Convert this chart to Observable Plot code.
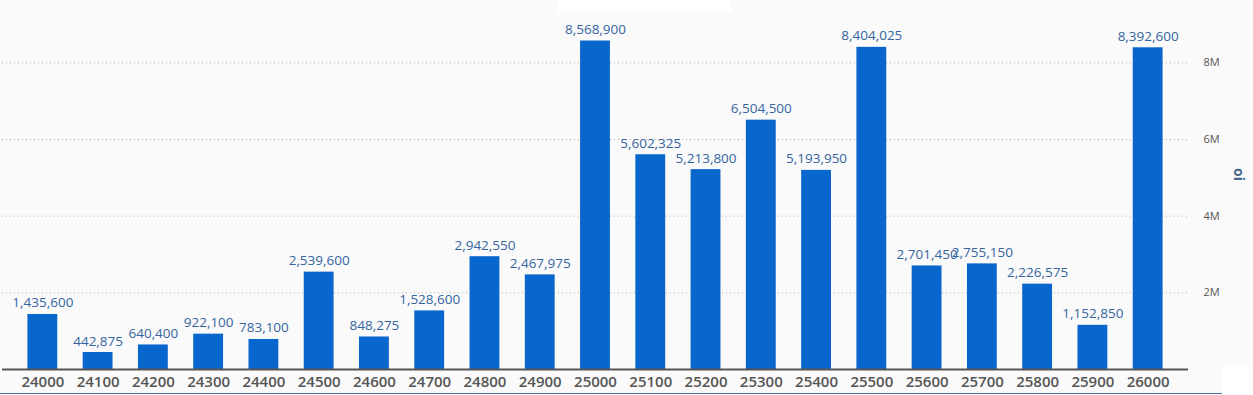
<!DOCTYPE html>
<html>
<head>
<meta charset="utf-8">
<script src="https://cdn.jsdelivr.net/npm/d3@7"></script>
<script src="https://cdn.jsdelivr.net/npm/@observablehq/plot@0.6"></script>
<style>
  html, body { margin: 0; padding: 0; background: #fafafa; }
  #chart { position: relative; width: 1253px; height: 395px; }
  .patch { position: absolute; background: #ffffff; }
</style>
</head>
<body>
<div id="chart"></div>
<script>
const strikes = ["24000","24100","24200","24300","24400","24500","24600","24700","24800","24900","25000","25100","25200","25300","25400","25500","25600","25700","25800","25900","26000"];
const oi = [1435600, 442875, 640400, 922100, 783100, 2539600, 848275, 1528600, 2942550, 2467975, 8568900, 5602325, 5213800, 6504500, 5193950, 8404025, 2701450, 2755150, 2226575, 1152850, 8392600];
const yTicks = [2000000, 4000000, 6000000, 8000000];
const yLabel = "oi";

const data = strikes.map((s, i) => ({strike: s, oi: oi[i]}));
const fmt = d3.format(",");

const chart = Plot.plot({
  width: 1253,
  height: 395,
  marginLeft: 2,
  marginRight: 65,
  marginTop: 24,
  marginBottom: 26,
  style: {background: "#fafafa", fontFamily: "'Open Sans', sans-serif", overflow: "visible"},
  x: {domain: strikes, padding: 0.46, round: false, label: null},
  y: {domain: [0, 9000000], label: null},
  marks: [
    Plot.gridY(yTicks, {stroke: "#aaa", strokeOpacity: 1, strokeDasharray: "1,3"}),
    Plot.barY(data, {x: "strike", y: "oi", fill: "#0866cc"}),
    Plot.ruleY([0], {stroke: "#555", strokeWidth: 2}),
    Plot.text(data, {x: "strike", y: "oi", text: d => fmt(d.oi), lineAnchor: "bottom", dy: -7, fill: "#3565a0", fontSize: 13.5}),
    Plot.axisY(yTicks, {anchor: "right", tickSize: 0, tickPadding: 15, textAnchor: "start", tickFormat: d => d / 1e6 + "M", fontSize: 11, color: "#555", fill: "#555", label: null}),
    Plot.axisX({tickSize: 0, tickPadding: 7, fontSize: 15, fontWeight: 600, color: "#555", fill: "#555", label: null}),
    Plot.text([yLabel], {frameAnchor: "right", rotate: 90, dx: 50, dy: -16, fontWeight: "bold", fontSize: 14, fill: "#46698a"})
  ]
});
const host = document.getElementById("chart");
host.appendChild(chart);
const p1 = document.createElement("div");
p1.className = "patch";
p1.style.cssText = "left:558px;top:0;width:173px;height:12px;";
host.appendChild(p1);
const p2 = document.createElement("div");
p2.className = "patch";
p2.style.cssText = "left:1222px;top:367px;width:31px;height:28px;";
host.appendChild(p2);
const p3 = document.createElement("div");
p3.style.cssText = "position:absolute;left:0;top:393px;width:1222px;height:1px;background:#4a6fa0;";
host.appendChild(p3);
</script>
</body>
</html>
